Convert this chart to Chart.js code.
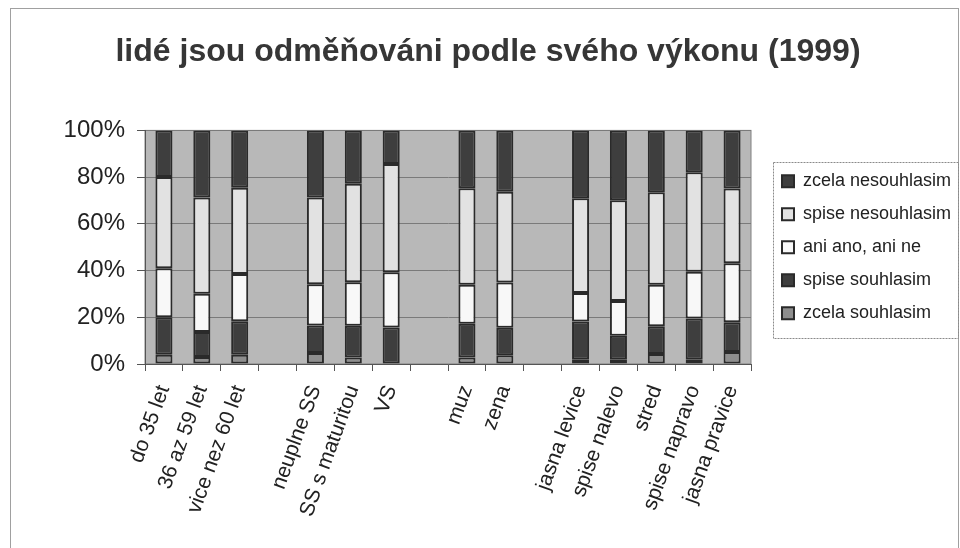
<!DOCTYPE html>
<html>
<head>
<meta charset="utf-8">
<script src="https://cdn.jsdelivr.net/npm/chart.js@4.4.1/dist/chart.umd.min.js"></script>
<style>
  html, body { margin: 0; padding: 0; background: #fff; }
  #wrap { width: 960px; height: 548px; position: relative; }
</style>
</head>
<body>
<div id="wrap"><canvas id="chart" width="960" height="548"></canvas></div>
<script>
// categories ('' = empty gap slot)
const categories = [
    'do 35 let', '36 az 59 let', 'vice nez 60 let', '',
    'neuplne SS', 'SS s maturitou', 'VS', '',
    'muz', 'zena', '',
    'jasna levice', 'spise nalevo', 'stred', 'spise napravo', 'jasna pravice'
];

// series values in % (bottom to top of each bar)
const zcelaSouhlasim    = [4,   3,    4,    null, 4.7,  2.8,  0,    null, 2.8,  3.7,  null, 1.8,  1.8,  4.3,  1.8,  5.1];
const spiseSouhlasim    = [16,  10.7, 14.3, null, 11.8, 13.6, 15.6, null, 14.4, 11.8, null, 16.4, 10.3, 11.9, 17.7, 12.8];
const aniAnoAniNe       = [21,  16.4, 20.2, null, 17.6, 18.6, 23.7, null, 16.7, 19.4, null, 12.2, 14.9, 17.7, 20,   25.2];
const spiseNesouhlasim  = [39,  41.2, 37,   null, 37.2, 42.2, 46.3, null, 41.3, 38.8, null, 40.6, 43.1, 39.6, 42.6, 32];
const zcelaNesouhlasim  = [20,  28.7, 24.5, null, 28.7, 22.8, 14.4, null, 24.8, 26.3, null, 29,   29.9, 26.5, 17.9, 24.9];

const yTicks = [0, 20, 40, 60, 80, 100];

const FONT = "'Liberation Sans', Arial, sans-serif";

// Frame, plot background and legend box
const decor = {
    id: 'decor',
    beforeLayout(chart) {
        const lg = chart.legend;
        if (lg && !lg._patched) {
            const fit = lg.fit;
            lg.fit = function() {
                fit.call(this);
                this.width = 199;
            };
            lg._patched = true;
        }
    },
    afterLayout(chart) {
        // push the legend to the right edge, leaving the plot where it is
        const lg = chart.legend;
        lg.left += 16;
        lg.right += 16;
    },
    beforeDraw(chart) {
        const ctx = chart.ctx;
        const a = chart.chartArea;
        ctx.save();
        ctx.fillStyle = '#fff';
        ctx.fillRect(0, 0, chart.width, chart.height);
        ctx.strokeStyle = '#a0a0a0';
        ctx.lineWidth = 1;
        ctx.strokeRect(10.5, 8.5, 948, 560);
        ctx.fillStyle = '#b8b8b8';
        ctx.fillRect(a.left, a.top, a.right - a.left, a.bottom - a.top);
        ctx.strokeStyle = '#808080';
        ctx.strokeRect(a.left, a.top, a.right - a.left, a.bottom - a.top);
        ctx.restore();
    },
    afterDraw(chart) {
        const lg = chart.legend;
        if (!lg || !lg.legendHitBoxes.length) return;
        const boxes = lg.legendHitBoxes;
        const last = boxes[boxes.length - 1];
        const top = boxes[0].top - 10;
        const bottom = last.top + last.height + 16;
        const left = boxes[0].left - 9;
        const ctx = chart.ctx;
        ctx.save();
        ctx.strokeStyle = '#8a8a8a';
        ctx.lineWidth = 1;
        ctx.setLineDash([2, 1]);
        ctx.strokeRect(Math.round(left) + 0.5, Math.round(top) + 0.5, 958 - Math.round(left), Math.round(bottom - top));
        ctx.restore();
    }
};

const barStyle = {
    borderColor: '#2a2a2a',
    borderWidth: 2,
    borderSkipped: false,
    barPercentage: 0.45,
    categoryPercentage: 1
};

new Chart(document.getElementById('chart').getContext('2d'), {
    type: 'bar',
    data: {
        labels: categories,
        datasets: [
            { label: 'zcela souhlasim', data: zcelaSouhlasim, backgroundColor: '#8e8e8e', ...barStyle },
            { label: 'spise souhlasim', data: spiseSouhlasim, backgroundColor: '#3e3e3e', ...barStyle },
            { label: 'ani ano, ani ne', data: aniAnoAniNe, backgroundColor: '#f8f8f8', ...barStyle },
            { label: 'spise nesouhlasim', data: spiseNesouhlasim, backgroundColor: '#e2e2e2', ...barStyle },
            { label: 'zcela nesouhlasim', data: zcelaNesouhlasim, backgroundColor: '#3e3e3e', ...barStyle }
        ]
    },
    options: {
        responsive: false,
        animation: false,
        layout: { padding: { left: 26, right: 10, top: 0, bottom: 0 } },
        plugins: {
            title: {
                display: true,
                text: 'lidé jsou odměňováni podle svého výkonu (1999)',
                color: '#363636',
                font: { family: FONT, size: 32, weight: 'bold', lineHeight: 1.2 },
                padding: { top: 33, bottom: 59 }
            },
            legend: {
                position: 'right',
                align: 'center',
                fullSize: false,
                reverse: true,
                labels: {
                    color: '#222',
                    font: { family: FONT, size: 18 },
                    boxWidth: 12,
                    boxHeight: 12,
                    padding: 15
                }
            },
            tooltip: { enabled: false }
        },
        scales: {
            x: {
                stacked: true,
                afterFit(scale) { scale.height = 184; },
                grid: {
                    drawOnChartArea: false,
                    drawTicks: true,
                    tickLength: 7,
                    offset: true,
                    color: '#555'
                },
                border: { color: '#555', width: 1 },
                ticks: {
                    autoSkip: false,
                    minRotation: 70,
                    maxRotation: 70,
                    padding: 11,
                    color: '#222',
                    font: { family: FONT, size: 21 }
                }
            },
            y: {
                stacked: true,
                min: 0,
                max: 100,
                afterFit(scale) { scale.width = 119; },
                afterBuildTicks(scale) { scale.ticks = yTicks.map(v => ({ value: v })); },
                grid: {
                    color: '#7a7a7a',
                    tickColor: '#555',
                    tickLength: 8
                },
                border: { color: '#555', width: 1 },
                ticks: {
                    padding: 12,
                    color: '#222',
                    font: { family: FONT, size: 24 },
                    callback: v => v + '%'
                }
            }
        }
    },
    plugins: [decor]
});
</script>
</body>
</html>
